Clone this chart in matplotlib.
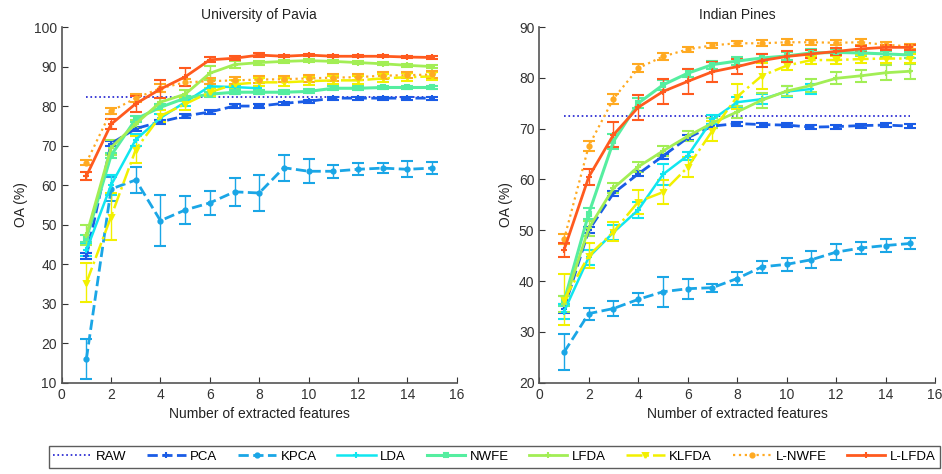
import numpy as np
import matplotlib
matplotlib.use("Agg")
import matplotlib.pyplot as plt

plt.rcParams['font.family'] = ['Liberation Sans', 'DejaVu Sans']

features = np.arange(1, 16)
methods = ['RAW', 'PCA', 'KPCA', 'LDA', 'NWFE', 'LFDA', 'KLFDA', 'L-NWFE', 'L-LFDA']

# University of Pavia (OA %, mean and std)
pavia_raw = 82.2
pavia_pca = [42, 70.5, 74.3, 76, 77.5, 78.5, 80, 80, 80.7, 81.2, 82, 82, 82, 82, 82]
pavia_pca_err = [0.8, 0.6, 0.5, 0.5, 0.5, 0.5, 0.4, 0.4, 0.4, 0.4, 0.4, 0.4, 0.4, 0.4, 0.4]
pavia_kpca = [16, 59, 61.3, 51, 53.7, 55.5, 58.3, 58, 64.4, 63.5, 63.5, 64, 64.3, 64, 64.3]
pavia_kpca_err = [5, 3, 3.2, 6.5, 3.5, 3, 3.5, 4.5, 3.3, 3, 1.7, 1.5, 1.3, 2, 1.5]
pavia_lda = [43.5, 60, 71.5, 77, 81, 85, 84.8, 84.5]
pavia_lda_err = [1.5, 2.5, 1.5, 1, 1, 0.5, 0.5, 0.5]
pavia_nwfe = [46.5, 67.5, 76.7, 79.7, 82, 83, 83.5, 83.5, 83.5, 83.7, 84.5, 84.5, 84.7, 84.7, 84.7]
pavia_nwfe_err = [0.8, 0.7, 0.7, 0.7, 0.6, 0.6, 0.5, 0.5, 0.5, 0.5, 0.5, 0.5, 0.5, 0.5, 0.5]
pavia_lfda = [47.3, 69.5, 75.5, 81, 83, 88.3, 90.5, 91, 91.3, 91.5, 91.3, 91, 90.7, 90.3, 90]
pavia_lfda_err = [2.5, 2, 1, 1, 1, 1.8, 0.8, 0.5, 0.4, 0.4, 0.4, 0.4, 0.4, 0.4, 0.4]
pavia_klfda = [35.3, 52, 69, 77.5, 80.5, 83.5, 85.5, 86, 86, 86.3, 86.5, 86.5, 87, 87.3, 87.5]
pavia_klfda_err = [5, 6, 3.5, 1.5, 1.5, 1, 1, 1, 1, 1, 1, 1, 1, 1, 1]
pavia_lnwfe = [65.7, 78.7, 82, 84.5, 86, 86.3, 86.5, 86.7, 86.8, 87, 87.2, 87.3, 87.7, 87.8, 88]
pavia_lnwfe_err = [0.7, 0.8, 1, 1, 0.8, 0.8, 0.8, 0.8, 0.8, 0.8, 0.8, 0.8, 0.8, 0.8, 0.8]
pavia_llfda = [62.3, 75.4, 80.6, 84.3, 87.4, 91.7, 92.1, 92.9, 92.6, 92.9, 92.6, 92.6, 92.6, 92.4, 92.3]
pavia_llfda_err = [1, 1.2, 2, 2.3, 2.3, 0.6, 0.5, 0.4, 0.3, 0.3, 0.3, 0.3, 0.3, 0.3, 0.4]

# Indian Pines
pines_raw = 72.4
pines_pca = [34.6, 50, 57.3, 61.1, 64.6, 68.2, 70.5, 71, 70.8, 70.7, 70.3, 70.4, 70.6, 70.7, 70.5]
pines_pca_err = [0.8, 0.6, 0.5, 0.5, 0.5, 0.5, 0.4, 0.4, 0.4, 0.4, 0.4, 0.4, 0.4, 0.4, 0.4]
pines_kpca = [26, 33.6, 34.6, 36.4, 37.9, 38.5, 38.7, 40.5, 42.8, 43.3, 44.2, 45.7, 46.5, 47, 47.4]
pines_kpca_err = [3.5, 1.2, 1.5, 1.2, 3, 2, 0.8, 1.3, 1.2, 1.3, 1.7, 1.5, 1.2, 1.2, 1]
pines_lda = [34, 44.7, 49.6, 54, 61, 64.7, 71.8, 75.2, 75.8, 77.3, 77.8]
pines_lda_err = [1.5, 1.5, 1.5, 1.5, 2, 0.8, 0.8, 1, 1, 1, 1]
pines_nwfe = [36, 53.3, 67.5, 75, 78.6, 80.9, 82.6, 83.3, 83.9, 84.3, 84.9, 85, 84.9, 84.7, 84.5]
pines_nwfe_err = [1, 1, 1.5, 1, 1, 0.8, 0.8, 0.8, 0.8, 0.7, 0.7, 0.6, 0.6, 0.6, 0.6]
pines_lfda = [35.5, 50.4, 58.3, 62.5, 65.6, 68.5, 71.1, 73.3, 75.6, 77.4, 78.5, 79.9, 80.4, 81, 81.3]
pines_lfda_err = [1.5, 1.5, 1, 1, 1, 1, 1, 1.2, 1.5, 1, 1.2, 1.2, 1.2, 1.5, 1.5]
pines_klfda = [36.3, 45, 49.7, 55.6, 57.5, 62.4, 69.6, 76.3, 80.4, 82.4, 83.5, 83.5, 83.7, 83.8, 83.8]
pines_klfda_err = [5, 2.5, 1.9, 2.3, 2.3, 2, 2, 2.5, 2.5, 0.8, 0.8, 0.8, 0.8, 0.8, 0.8]
pines_lnwfe = [48.2, 66.6, 75.9, 81.9, 84.2, 85.6, 86.4, 86.8, 86.8, 87, 87, 86.9, 87, 86.5, 86.2]
pines_lnwfe_err = [1, 1, 1, 0.8, 0.6, 0.5, 0.5, 0.5, 0.6, 0.6, 0.5, 0.5, 0.6, 0.5, 0.5]
pines_llfda = [46.1, 60.5, 68.8, 74.2, 77.3, 79.3, 81.2, 82.2, 83.4, 84.2, 84.7, 85.2, 85.7, 86, 86]
pines_llfda_err = [1.3, 1.5, 2.5, 2.5, 2.5, 2.5, 2, 1.5, 1.2, 1, 0.8, 0.7, 0.6, 0.5, 0.5]

colors = ['#1c1cd0', '#1a5ce6', '#1aa6e6', '#10e6f0', '#55eea0', '#a2ee55',
          '#f2f000', '#ffaa22', '#ff5a1e']
styles = [':', '--', '--', '-', '-', '-', '-.', ':', '-']
markers = ['None', '+', '.', '+', 's', '+', 'v', 'o', '+']
widths = [1.2, 2.0, 2.0, 1.8, 2.2, 2.0, 1.8, 1.6, 2.0]
msizes = [3, 4, 6, 4, 3.5, 4, 3.5, 3, 4]

fig = plt.figure(figsize=(9.42, 4.74), dpi=100)
ax1 = fig.add_axes([0.0655, 0.1926, 0.4193, 0.7504])
ax2 = fig.add_axes([0.5725, 0.1926, 0.4201, 0.7504])

pavia = [(pavia_pca, pavia_pca_err), (pavia_kpca, pavia_kpca_err), (pavia_lda, pavia_lda_err),
         (pavia_nwfe, pavia_nwfe_err), (pavia_lfda, pavia_lfda_err), (pavia_klfda, pavia_klfda_err),
         (pavia_lnwfe, pavia_lnwfe_err), (pavia_llfda, pavia_llfda_err)]
pines = [(pines_pca, pines_pca_err), (pines_kpca, pines_kpca_err), (pines_lda, pines_lda_err),
         (pines_nwfe, pines_nwfe_err), (pines_lfda, pines_lfda_err), (pines_klfda, pines_klfda_err),
         (pines_lnwfe, pines_lnwfe_err), (pines_llfda, pines_llfda_err)]

handles = []
for ax, raw, series, title, ylim in [(ax1, pavia_raw, pavia, 'University of Pavia', (10, 100)),
                                     (ax2, pines_raw, pines, 'Indian Pines', (20, 90))]:
    h = ax.plot(features, [raw] * len(features), linestyle=styles[0], color=colors[0],
                linewidth=widths[0], label=methods[0])[0]
    hs = [h]
    for i, (vals, err) in enumerate(series, start=1):
        x = features[:len(vals)]
        eb = ax.errorbar(x, vals, yerr=err, color=colors[i], linestyle=styles[i],
                         linewidth=widths[i], marker=markers[i], markersize=msizes[i],
                         markeredgewidth=1.5, elinewidth=1.0, capsize=4, capthick=1.0,
                         label=methods[i])
        hs.append(eb.lines[0])
    handles = hs
    ax.set_xlim(0, 16)
    ax.set_ylim(*ylim)
    ax.set_xticks(range(0, 17, 2))
    ax.set_title(title, fontsize=10, color='#222222')
    ax.set_xlabel('Number of extracted features', fontsize=10, color='#222222')
    ax.set_ylabel('OA (%)', fontsize=10, color='#222222')
    ax.tick_params(direction='in', labelsize=10, colors='#333333', length=4)
    for s in ['top', 'right']:
        ax.spines[s].set_visible(False)
    for s in ['left', 'bottom']:
        ax.spines[s].set_color('#555555')
        ax.spines[s].set_linewidth(1.2)

leg = fig.legend(handles, methods, loc='center', bbox_to_anchor=(0.525, 0.036), ncol=9,
                 fontsize=9.5, frameon=True, fancybox=False, edgecolor='#333333',
                 handlelength=2.9, handletextpad=0.35, columnspacing=1.55,
                 borderpad=0.35)
leg.get_frame().set_linewidth(1.0)

fig.savefig('out.png', dpi=100)
